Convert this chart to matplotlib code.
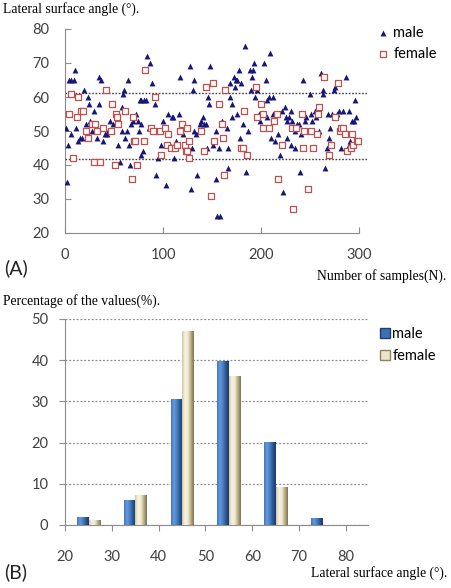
import numpy as np
import matplotlib
matplotlib.use("Agg")
import matplotlib.pyplot as plt
from matplotlib.colors import LinearSegmentedColormap
from matplotlib.patches import Patch

# ---- panel A: lateral surface angle per sample ----
male_n = [1, 2, 3, 4, 6, 6, 9, 10, 11, 13, 15, 17, 19, 21, 23, 24, 26, 28, 30, 33,
          35, 35, 37, 39, 41, 43, 44, 46, 48, 49, 53, 54, 56, 58, 58, 59, 60, 61, 63, 64,
          65, 66, 67, 69, 72, 74, 75, 77, 78, 76, 78, 80, 81, 83, 84, 86, 87, 89, 90, 92,
          93, 95, 98, 100, 103, 105, 107, 109, 110, 111, 113, 116, 117, 120, 122, 127, 129, 130, 131, 132,
          132, 134, 135, 137, 138, 139, 141, 142, 144, 146, 147, 148, 145, 151, 154, 154, 155, 158, 157, 160,
          165, 166, 166, 168, 168, 170, 170, 172, 173, 174, 175, 175, 177, 178, 180, 182, 184, 185, 187, 189,
          190, 191, 192, 193, 194, 196, 198, 199, 203, 205, 206, 206, 208, 209, 210, 212, 212, 214, 217, 219,
          221, 222, 224, 225, 226, 226, 228, 230, 230, 232, 235, 235, 237, 239, 240, 241, 243, 245, 246, 248,
          250, 251, 252, 255, 256, 259, 261, 263, 263, 265, 267, 268, 269, 270, 272, 274, 275, 277, 279, 281,
          284, 286, 287, 290, 290, 291, 293, 296, 297, 295]
male_angle = [51, 35, 46, 65, 49, 65, 65, 68, 51, 47, 48, 48, 62, 52, 60, 58, 53, 50, 56, 48,
              58, 66, 65, 47, 49, 49, 50, 53, 50, 52, 55, 46, 41, 57, 50, 61, 62, 48, 50, 65,
              46, 40, 52, 53, 55, 53, 50, 43, 52, 59, 59, 44, 59, 59, 72, 51, 70, 64, 51, 58,
              37, 42, 46, 53, 34, 55, 46, 54, 54, 42, 47, 55, 66, 49, 46, 69, 33, 45, 62, 65,
              50, 49, 37, 50, 52, 53, 54, 52, 52, 60, 58, 69, 45, 46, 50, 36, 25, 25, 45, 53,
              51, 45, 39, 60, 64, 54, 58, 66, 63, 65, 55, 65, 68, 48, 64, 52, 75, 38, 50, 68,
              62, 66, 68, 70, 60, 62, 55, 53, 70, 65, 54, 59, 60, 73, 48, 60, 55, 47, 49, 43,
              56, 32, 57, 54, 53, 48, 54, 46, 56, 53, 50, 45, 52, 52, 38, 49, 65, 53, 54, 50,
              61, 55, 53, 56, 54, 50, 67, 62, 61, 39, 45, 55, 48, 51, 55, 62, 63, 55, 56, 45,
              56, 50, 66, 56, 46, 47, 53, 59, 54, 53]
female_n = [4, 6, 8, 12, 13, 16, 18, 21, 23, 28, 30, 31, 33, 36, 39, 42, 47, 48, 51, 52,
            53, 54, 61, 68, 69, 70, 71, 73, 81, 82, 88, 90, 92, 97, 98, 102, 104, 105, 108, 112,
            114, 117, 119, 122, 123, 124, 124, 126, 126, 139, 142, 144, 149, 151, 152, 157, 160, 161, 162, 163,
            180, 182, 183, 186, 195, 196, 200, 202, 202, 208, 213, 216, 217, 221, 232, 233, 236, 242, 243, 244,
            248, 251, 253, 257, 258, 259, 264, 269, 271, 275, 278, 280, 281, 284, 286, 288, 292, 293, 294, 298,
            299]
female_angle = [55, 61, 42, 54, 60, 56, 56, 50, 48, 52, 41, 52, 50, 41, 51, 62, 50, 58, 40, 55,
                54, 52, 56, 36, 54, 47, 47, 40, 47, 68, 51, 50, 60, 50, 43, 51, 46, 49, 45, 45,
                46, 50, 52, 46, 44, 51, 44, 42, 47, 50, 44, 63, 31, 64, 47, 58, 52, 48, 37, 62,
                45, 45, 56, 43, 63, 54, 58, 51, 55, 51, 53, 55, 36, 46, 51, 27, 51, 55, 45, 50,
                33, 50, 45, 49, 55, 57, 66, 43, 46, 54, 64, 50, 51, 51, 49, 44, 45, 49, 46, 47,
                47]
ref_lines = [61.3, 41.8]

# ---- panel B: distribution of angles ----
bin_centers = [25, 35, 45, 55, 65, 75]
male_pct = [2.0, 6.0, 30.7, 39.9, 20.1, 1.6]
female_pct = [1.2, 7.3, 47.2, 36.2, 9.3, 0.0]

serif = ["Liberation Serif", "DejaVu Serif"]
sans = ["Lato", "DejaVu Sans"]
plt.rcParams["font.family"] = sans
spine_col = "#8c8c8c"
tick_col = "#404040"
tick_fs = 10.5
cap_fs = 9.8

fig = plt.figure(figsize=(4.52, 5.88), dpi=100)
W, H = 452.0, 588.0

def axes_px(x0, y0, x1, y1):
    return fig.add_axes([x0 / W, 1 - y1 / H, (x1 - x0) / W, (y1 - y0) / H])

# ---------------- (A) scatter ----------------
ax1 = axes_px(65, 29, 367, 233)
ax1.scatter(male_n, male_angle, marker="^", s=18, color="#17177a", linewidths=0, label="male", zorder=3)
ax1.scatter(female_n, female_angle, marker="s", s=20, facecolors="white", edgecolors="#c0504d",
            linewidths=0.9, label="female", zorder=3)
for y in ref_lines:
    ax1.axhline(y, color="#404040", lw=1.0, ls=(0, (1.2, 1.2)), zorder=2)
ax1.set_xlim(0, 308)
ax1.set_ylim(20, 80)
ax1.set_xticks([0, 100, 200, 300])
ax1.set_yticks(range(20, 81, 10))
for s in ["top", "right"]:
    ax1.spines[s].set_visible(False)
ax1.spines["bottom"].set_bounds(0, 300)
for s in ["left", "bottom"]:
    ax1.spines[s].set_color(spine_col)
ax1.tick_params(axis="both", direction="in", length=4, color=spine_col, labelsize=tick_fs, labelcolor=tick_col)
ax1.tick_params(axis="y", pad=11)
ax1.tick_params(axis="x", pad=11)
ax1.legend(loc="upper left", bbox_to_anchor=(1.005, 1.045), frameon=False, fontsize=tick_fs,
           handletextpad=0.1, labelspacing=0.5, handlelength=1.2, borderaxespad=0)

fig.text(3 / W, 1 - 9 / H, "Lateral surface angle (°).", family=serif, fontsize=cap_fs, va="center", ha="left")
fig.text(446 / W, 1 - 276 / H, "Number of samples(N).", family=serif, fontsize=cap_fs, va="center", ha="right")
fig.text(4 / W, 1 - 268 / H, "(A)", fontsize=14, va="center", ha="left", color="#222222")

# ---------------- (B) bar chart ----------------
ax2 = axes_px(65, 319, 368, 525)
bw = 2.4
off = 1.25
xc = np.array(bin_centers, dtype=float)
bars_m = ax2.bar(xc - off, male_pct, width=bw, color="none", edgecolor="none", label="male")
bars_f = ax2.bar(xc + off, female_pct, width=bw, color="none", edgecolor="none", label="female")

blue = LinearSegmentedColormap.from_list("b", ["#4478c0", "#6499dc", "#4a7ec4", "#2a5590", "#1a3a6a"])
beige = LinearSegmentedColormap.from_list("g", ["#cfc6a6", "#f8f4e2", "#f0e9ce", "#b8ad85", "#7d7352"])
grad = np.linspace(0, 1, 64).reshape(1, -1)
for bars, cmap in [(bars_m, blue), (bars_f, beige)]:
    for p in bars:
        h = p.get_height()
        if h <= 0:
            continue
        x0 = p.get_x()
        im = ax2.imshow(grad, cmap=cmap, aspect="auto", extent=[x0, x0 + p.get_width(), 0, h],
                        zorder=3, interpolation="bilinear")
        im.set_clip_path(p)

ax2.set_xlim(20, 84.7)
ax2.set_ylim(0, 50)
ax2.set_xticks(range(20, 81, 10))
ax2.set_yticks(range(0, 51, 10))
ax2.yaxis.grid(True, color="#8c8c8c", ls=(0, (1.5, 1.5)), lw=0.9)
ax2.set_axisbelow(True)
for s in ["top", "right"]:
    ax2.spines[s].set_visible(False)
for s in ["left", "bottom"]:
    ax2.spines[s].set_color(spine_col)
ax2.tick_params(axis="both", direction="out", length=4, color=spine_col, labelsize=tick_fs, labelcolor=tick_col)
ax2.tick_params(axis="x", pad=14)
ax2.tick_params(axis="y", pad=8)

h_m = Patch(facecolor="#3d6fb4", edgecolor="#1f3c6e")
h_f = Patch(facecolor="#ebe4c8", edgecolor="#8c8264")
ax2.legend([h_m, h_f], ["male", "female"], loc="upper left", bbox_to_anchor=(1.02, 0.99), frameon=False,
           fontsize=tick_fs, handletextpad=0.15, labelspacing=0.55, handlelength=0.7, handleheight=0.7,
           borderaxespad=0)

fig.text(3 / W, 1 - 301 / H, "Percentage of the values(%).", family=serif, fontsize=cap_fs, va="center", ha="left")
fig.text(447 / W, 1 - 573 / H, "Lateral surface angle (°).", family=serif, fontsize=cap_fs, va="center", ha="right")
fig.text(4 / W, 1 - 572 / H, "(B)", fontsize=14, va="center", ha="left", color="#222222")

fig.savefig("out.png", dpi=100)
